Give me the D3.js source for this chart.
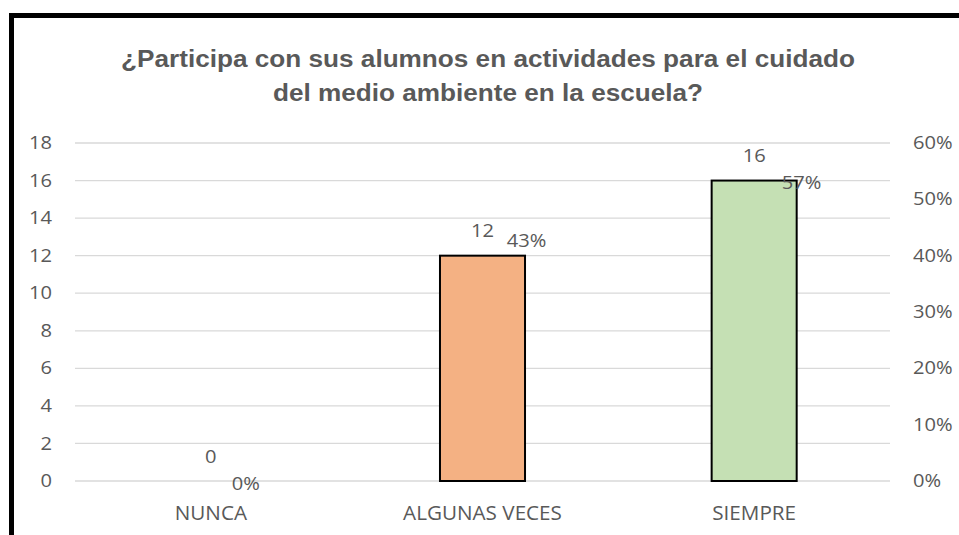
<!DOCTYPE html>
<html>
<head>
<meta charset="utf-8">
<script src="https://cdn.jsdelivr.net/npm/d3@7"></script>
<style>
  body { margin: 0; background: #fff; }
  text { fill: #595959; }
</style>
</head>
<body>
<div id="canvas"></div>
<script>
const titleLines = ["¿Participa con sus alumnos en actividades para el cuidado", "del medio ambiente en la escuela?"];
const categories = ["NUNCA", "ALGUNAS VECES", "SIEMPRE"];
const counts = [0, 12, 16];
const percents = [0, 0.43, 0.57];
const barColors = ["#F4B183", "#F4B183", "#C5E0B4"];
const leftTicks = [0, 2, 4, 6, 8, 10, 12, 14, 16, 18];
const rightTicks = [0, 0.1, 0.2, 0.3, 0.4, 0.5, 0.6];

const width = 959;
const height = 535;
const margin = {top: 143, left: 75, bottom: 54, right: 69};
const iwidth = width - margin.left - margin.right;
const iheight = height - margin.top - margin.bottom;

const font = "Open Sans, sans-serif";
const pct = d3.format(".0%");

// the source picture is a bit stretched sideways, so text gets a horizontal scale
function stretch(sel, sx) {
  sel.each(function() {
    const t = d3.select(this);
    const tx = +t.attr("x") || 0;
    const ty = +t.attr("y") || 0;
    t.attr("x", 0).attr("y", 0)
     .attr("transform", `translate(${tx},${ty}) scale(${sx},1)`);
  });
}

const svg = d3.select("#canvas").append("svg")
    .attr("width", width)
    .attr("height", height);

// chart frame (only left and top edges are visible in the picture)
svg.append("rect")
    .attr("x", 11.5).attr("y", 15.5)
    .attr("width", 960).attr("height", 540)
    .attr("fill", "none").attr("stroke", "#000").attr("stroke-width", 5);

const title = svg.append("g");
title.selectAll("text").data(titleLines).enter().append("text")
    .attr("x", 488)
    .attr("y", (d, i) => 67 + i * 34)
    .attr("text-anchor", "middle")
    .style("font-family", "Liberation Sans, Arial, sans-serif")
    .style("font-weight", "bold")
    .style("font-size", "24px")
    .text(d => d)
    .call(stretch, 1.09);

const g = svg.append("g").attr("transform", `translate(${margin.left},${margin.top})`);

const x = d3.scaleBand().domain(categories).range([0, iwidth]).paddingInner(0.687).paddingOuter(0.3435);
const y = d3.scaleLinear().domain([0, 18]).range([iheight, 0]);
const y2 = d3.scaleLinear().domain([0, 0.6]).range([iheight, 0]);

// gridlines
g.append("g")
    .selectAll("line").data(leftTicks).enter().append("line")
    .attr("x1", 0).attr("x2", iwidth)
    .attr("y1", d => y(d)).attr("y2", d => y(d))
    .attr("stroke", "#D9D9D9").attr("stroke-width", 1.3);

const yAxis = g.append("g")
    .attr("transform", "translate(-23,0)")
    .call(d3.axisLeft(y).tickValues(leftTicks).tickSize(0).tickPadding(0));
yAxis.select(".domain").remove();
yAxis.selectAll("text")
    .style("font-family", font).style("font-size", "17.5px").attr("fill", "#595959")
    .call(stretch, 1.15);

const y2Axis = g.append("g")
    .attr("transform", `translate(${iwidth + 23},0)`)
    .call(d3.axisRight(y2).tickValues(rightTicks).tickFormat(pct).tickSize(0).tickPadding(0));
y2Axis.select(".domain").remove();
y2Axis.selectAll("text")
    .style("font-family", font).style("font-size", "17.5px").attr("fill", "#595959")
    .call(stretch, 1.15);

const xAxis = g.append("g")
    .attr("transform", `translate(0,${iheight + 39})`)
    .call(d3.axisBottom(x).tickSize(0).tickPadding(0));
xAxis.select(".domain").remove();
xAxis.selectAll("text")
    .attr("dy", 0)
    .style("font-family", font).style("font-size", "19.5px").attr("fill", "#595959")
    .call(stretch, 1.06);

const data = categories.map((c, i) => ({cat: c, n: counts[i], p: percents[i], color: barColors[i]}));

g.selectAll("rect.bar").data(data.filter(d => d.n > 0)).enter().append("rect")
    .attr("class", "bar")
    .attr("x", d => x(d.cat))
    .attr("y", d => y(d.n))
    .attr("width", x.bandwidth())
    .attr("height", d => y(0) - y(d.n))
    .attr("fill", d => d.color)
    .attr("stroke", "#000").attr("stroke-width", 2);

g.selectAll("text.count").data(data).enter().append("text")
    .attr("class", "count")
    .attr("x", d => x(d.cat) + x.bandwidth() / 2)
    .attr("y", d => y(d.n) - 18.5)
    .attr("text-anchor", "middle")
    .style("font-family", font).style("font-size", "17.5px")
    .text(d => d.n)
    .call(stretch, 1.15);

// percent labels sit right of the (hidden) line points; last one nudged down to clear the count label
g.selectAll("text.pct").data(data).enter().append("text")
    .attr("class", "pct")
    .attr("x", (d, i) => x(d.cat) + x.bandwidth() / 2 + 21 + i * 3.3)
    .attr("y", (d, i) => y2(d.p) + 8.5 + (i === 2 ? 20.5 : 0))
    .style("font-family", font).style("font-size", "17.5px")
    .text(d => pct(d.p))
    .call(stretch, 1.15);
</script>
</body>
</html>
